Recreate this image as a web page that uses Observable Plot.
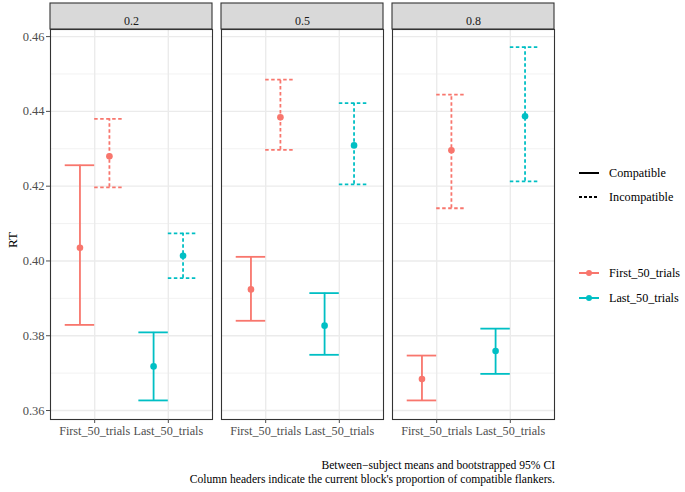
<!DOCTYPE html>
<html><head><meta charset="utf-8">
<script src="https://cdn.jsdelivr.net/npm/d3@7"></script>
<script src="https://cdn.jsdelivr.net/npm/@observablehq/plot@0.6"></script>
<style>
body{margin:0;background:#fff;font-family:"Liberation Serif",serif;}
#wrap{position:relative;width:685px;height:492px;overflow:hidden;}
#chart svg, #chart svg text{font-family:"Liberation Serif",serif !important;}
#legend{position:absolute;left:581px;top:0;font-size:12.2px;color:#000;}
.key{position:absolute;display:flex;align-items:center;white-space:nowrap;}
.key svg{margin-right:8px;}
#ylab{position:absolute;left:5px;top:232px;font-size:13px;transform:rotate(-90deg);transform-origin:center;width:16px;text-align:center;}
#caption{position:absolute;right:130px;top:459px;text-align:right;font-size:11.6px;line-height:14px;color:#000;white-space:nowrap;}
</style></head><body>
<div id="wrap"><div id="chart"></div><div id="ylab">RT</div><div id="legend"></div><div id="caption">Between−subject means and bootstrapped 95% CI<br>Column headers indicate the current block's proportion of compatible flankers.</div></div>
<script>
// Facets (current block's proportion of compatible flankers)
const proportions = ["0.2", "0.5", "0.8"];
const blocks = ["First_50_trials", "Last_50_trials"];
const conditions = ["Compatible", "Incompatible"];
// Order: proportion × block × condition
const meanRT  = [0.4035, 0.4280, 0.3718, 0.4014,  0.3924, 0.4384, 0.3827, 0.4309,  0.3684, 0.4296, 0.3759, 0.4387];
const lowerCI = [0.3829, 0.4197, 0.3627, 0.3954,  0.3840, 0.4297, 0.3749, 0.4205,  0.3627, 0.4141, 0.3698, 0.4213];
const upperCI = [0.4256, 0.4380, 0.3809, 0.4074,  0.4011, 0.4485, 0.3914, 0.4422,  0.3747, 0.4445, 0.3819, 0.4572];
const yTicks = [0.36, 0.38, 0.40, 0.42, 0.44, 0.46];
const yMinor = [0.37, 0.39, 0.41, 0.43, 0.45];
const colors = ["#F8766D", "#00BFC4"];

const dodge = 0.2;
const rows = [];
let k = 0;
proportions.forEach(p => blocks.forEach((b, bi) => conditions.forEach((c, ci) => {
  rows.push({proportion: p, block: b, condition: c,
    x: bi + 1 + (ci === 0 ? -dodge : dodge),
    mean: meanRT[k], lo: lowerCI[k], hi: upperCI[k]});
  k++;
})));
const comp = rows.filter(d => d.condition === "Compatible");
const incomp = rows.filter(d => d.condition === "Incompatible");

function strip(index, scales, values, dim) {
  const g = d3.create("svg:g");
  g.append("rect")
    .attr("x", dim.marginLeft).attr("y", dim.marginTop - 26)
    .attr("width", dim.width - dim.marginLeft - dim.marginRight).attr("height", 26)
    .attr("fill", "#D9D9D9").attr("stroke", "#333333").attr("stroke-width", 1.1);
  return g.node();
}

function bars(data, dash) {
  const o = {fx: "proportion", stroke: "block", strokeWidth: 1.8};
  if (dash) o.strokeDasharray = dash;
  return [
    Plot.ruleX(data, {...o, x: "x", y1: "lo", y2: "hi"}),
    Plot.ruleY(data, {...o, y: "hi", x1: d => d.x - dodge, x2: d => d.x + dodge}),
    Plot.ruleY(data, {...o, y: "lo", x1: d => d.x - dodge, x2: d => d.x + dodge})
  ];
}

const chart = Plot.plot({
  width: 685, height: 450,
  marginLeft: 49, marginRight: 131, marginTop: 29, marginBottom: 31,
  style: {fontFamily: "Liberation Serif", fontSize: "12px", background: "#fff"},
  fx: {domain: proportions, paddingInner: 0.053, paddingOuter: 0, axis: null},
  x: {domain: [0.4, 2.6]},
  y: {domain: [0.3576, 0.4619]},
  color: {domain: blocks, range: colors},
  marks: [
    Plot.ruleY(yMinor, {stroke: "#EBEBEB", strokeWidth: 0.7}),
    Plot.ruleY(yTicks, {stroke: "#EBEBEB", strokeWidth: 1.4}),
    Plot.ruleX([1, 2], {stroke: "#EBEBEB", strokeWidth: 1.4}),
    ...bars(comp, null),
    ...bars(incomp, "3.5,2.5"),
    Plot.dot(rows, {fx: "proportion", x: "x", y: "mean", fill: "block", r: 3.3}),
    Plot.frame({stroke: "#333333", strokeWidth: 1.1}),
    strip,
    Plot.text(proportions, {fx: d => d, text: d => d, frameAnchor: "top", dy: -13, fill: "#1A1A1A", fontSize: 12}),
    Plot.axisY({ticks: yTicks, tickFormat: d3.format(".2f"), tickSize: 4, tickPadding: 2, color: "#4D4D4D", fontSize: 12.5, label: null}),
    Plot.axisX({ticks: [1, 2], tickFormat: d => blocks[d - 1], tickSize: 4, tickPadding: 3, color: "#4D4D4D", fontSize: 12.2, label: null})
  ]
});
document.getElementById("chart").appendChild(chart);

// Legend
const legend = d3.select("#legend");
const keyW = 20;
function key(top, label, stroke, dash, dot) {
  const row = legend.append("div").attr("class", "key").style("top", (top - 9) + "px").style("left", "-4px");
  const s = row.append("svg").attr("width", keyW + 4).attr("height", 18);
  s.append("line").attr("x1", 2).attr("x2", keyW + 2).attr("y1", 9).attr("y2", 9)
    .attr("stroke", stroke).attr("stroke-width", 2).attr("stroke-dasharray", dash);
  if (dot) s.append("circle").attr("cx", keyW / 2 + 2).attr("cy", 9).attr("r", 3).attr("fill", stroke);
  row.append("span").text(label);
}
key(173, conditions[0], "#000", null, false);
key(197, conditions[1], "#000", "3,2", false);
key(273, blocks[0], colors[0], null, true);
key(298, blocks[1], colors[1], null, true);
</script></body></html>
